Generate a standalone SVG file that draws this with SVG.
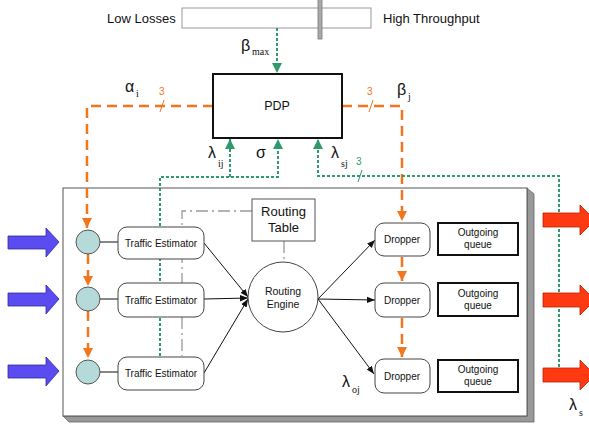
<svg xmlns="http://www.w3.org/2000/svg" width="589" height="427" viewBox="0 0 589 427">
<style>
text{font-family:"Liberation Sans",Arial,sans-serif;fill:#111}
.lbl{font-size:13px}
.sm{font-size:10px}
.gk{font-size:16px}
.sub{font-family:"Liberation Serif","Times New Roman",serif;font-size:10px}
.or{stroke:#f2761e;stroke-width:2.5;fill:none;stroke-dasharray:10 6}
.gr{stroke:#2f9a6c;stroke-width:2;fill:none;stroke-dasharray:3 2}
.blk{stroke:#111;stroke-width:1;fill:none}
.gd{stroke:#999;stroke-width:1.3;fill:none;stroke-dasharray:12 4 2 4}
.rbox{fill:#fff;stroke:#444;stroke-width:1}
.qbox{fill:#fff;stroke:#111;stroke-width:2}
.circ{fill:#b6dada;stroke:#555;stroke-width:1}
.blue{fill:#5a4cf0;stroke:#2d2a9a;stroke-width:0.8}
.red{fill:#ff3a12;stroke:#b82000;stroke-width:0.8}
</style>
<defs>
<marker id="ao" viewBox="0 0 10 10" refX="10" refY="5" markerWidth="4" markerHeight="4" orient="auto" markerUnits="strokeWidth"><path d="M0,0 L10,5 L0,10 Z" fill="#f2761e"/></marker>
<marker id="ag" viewBox="0 0 10 10" refX="10" refY="5" markerWidth="5" markerHeight="5" orient="auto" markerUnits="strokeWidth"><path d="M0,0 L10,5 L0,10 Z" fill="#2f9a6c"/></marker>
<marker id="ab" viewBox="0 0 10 10" refX="10" refY="5" markerWidth="8" markerHeight="8" orient="auto" markerUnits="strokeWidth"><path d="M0,1 L10,5 L0,9 Z" fill="#111"/></marker>
</defs>

<g id="slider">
<text class="lbl" x="107" y="23">Low Losses</text>
<rect x="182" y="8" width="189" height="20" fill="#fff" stroke="#999" stroke-width="1"/>
<rect x="318" y="-2" width="4" height="41" fill="#aaa" stroke="#777" stroke-width="0.8"/>
<text class="lbl" x="383" y="23">High Throughput</text>
</g>

<g id="main-box">
<polygon points="527,188 534,194 534,422 69,422 63,416 527,416" fill="#999" stroke="#666" stroke-width="0.8"/>
<rect x="63" y="188" width="464" height="228" fill="#fff" stroke="#555" stroke-width="1"/>
</g>

<g id="connectors">
<path class="or" d="M213,106 H87 V228" marker-end="url(#ao)"/>
<path class="or" d="M88,254 V286" marker-end="url(#ao)"/>
<path class="or" d="M88,311 V358" marker-end="url(#ao)"/>
<path class="or" d="M342,106 H402 V221" marker-end="url(#ao)"/>
<path class="or" d="M402,257 V281" marker-end="url(#ao)"/>
<path class="or" d="M402,318 V357" marker-end="url(#ao)"/>
<line x1="160" y1="112" x2="164" y2="100" stroke="#f2761e" stroke-width="1"/>
<line x1="369" y1="112" x2="373" y2="100" stroke="#f2761e" stroke-width="1"/>
<path class="gr" d="M277,28 V73" marker-end="url(#ag)"/>
<path class="gr" d="M160,356 V177 H278 V139" marker-end="url(#ag)"/>
<path class="gr" d="M230,177 V139" marker-end="url(#ag)"/>
<path class="gr" d="M559,367 V176 H318 V139" marker-end="url(#ag)"/>
<line x1="358" y1="182" x2="362" y2="170" stroke="#2f9a6c" stroke-width="1"/>
<path class="gd" d="M252,211 H182 V356"/>
<path class="gd" d="M284,241 V262"/>
<line class="blk" x1="100" y1="242" x2="118" y2="242"/>
<line class="blk" x1="100" y1="299" x2="118" y2="299"/>
<line class="blk" x1="100" y1="372" x2="118" y2="372"/>
<line class="blk" x1="204" y1="243" x2="248" y2="297" marker-end="url(#ab)"/>
<line class="blk" x1="204" y1="299" x2="248" y2="298" marker-end="url(#ab)"/>
<line class="blk" x1="204" y1="373" x2="248" y2="299" marker-end="url(#ab)"/>
<line class="blk" x1="318" y1="299" x2="375" y2="240" marker-end="url(#ab)"/>
<line class="blk" x1="318" y1="299" x2="375" y2="300" marker-end="url(#ab)"/>
<line class="blk" x1="318" y1="299" x2="374" y2="374" marker-end="url(#ab)"/>
</g>

<g id="pdp">
<rect x="213" y="74" width="129" height="64" fill="#fff" stroke="#111" stroke-width="2"/>
<text x="277" y="110" text-anchor="middle" style="font-size:12.5px">PDP</text>
</g>

<g id="labels">
<text class="gk" x="241" y="51">β</text><text class="sub" x="252" y="55">max</text>
<text class="gk" x="125" y="92">α</text><text class="sub" x="136" y="97">i</text>
<text x="159" y="95" style="font-size:10px;fill:#f2761e">3</text>
<text x="367" y="95" style="font-size:10px;fill:#f2761e">3</text>
<text class="gk" x="397" y="95">β</text><text class="sub" x="408" y="100">j</text>
<text class="gk" x="208" y="158">λ</text><text class="sub" x="218" y="167">ij</text>
<text class="gk" x="256" y="158">σ</text>
<text class="gk" x="331" y="158">λ</text><text class="sub" x="341" y="167">sj</text>
<text x="356" y="165" style="font-size:10px;fill:#2f9a6c">3</text>
<text class="gk" x="342" y="387">λ</text><text class="sub" x="352" y="393">oj</text>
<text class="gk" x="569" y="410">λ</text><text class="sub" x="579" y="416">s</text>
</g>

<g id="inputs">
<polygon class="blue" points="8,236 46,236 46,228 59,242 46,257 46,249 8,249"/>
<polygon class="blue" points="8,293 46,293 46,285 59,299 46,314 46,306 8,306"/>
<polygon class="blue" points="8,365 46,365 46,357 59,371 46,386 46,378 8,378"/>
</g>

<g id="queues-circles">
<circle class="circ" cx="88" cy="242" r="12"/>
<circle class="circ" cx="88" cy="299" r="12"/>
<circle class="circ" cx="88" cy="372" r="12"/>
</g>

<g id="traffic-estimator-1"><rect class="rbox" x="118" y="227" width="86" height="32" rx="9"/><text class="sm" x="161" y="246.5" text-anchor="middle">Traffic Estimator</text></g>
<g id="traffic-estimator-2"><rect class="rbox" x="118" y="283" width="86" height="34" rx="9"/><text class="sm" x="161" y="303.5" text-anchor="middle">Traffic Estimator</text></g>
<g id="traffic-estimator-3"><rect class="rbox" x="118" y="357" width="86" height="33" rx="9"/><text class="sm" x="161" y="377" text-anchor="middle">Traffic Estimator</text></g>

<g id="routing-table">
<rect x="252" y="199" width="63" height="42" fill="#fff" stroke="#555" stroke-width="1"/>
<text class="lbl" x="283.5" y="216" text-anchor="middle">Routing</text>
<text class="lbl" x="283.5" y="232" text-anchor="middle">Table</text>
</g>

<g id="routing-engine">
<circle cx="283" cy="297" r="35" fill="#fff" stroke="#444" stroke-width="1"/>
<text x="283" y="295" text-anchor="middle" style="font-size:10.5px">Routing</text>
<text x="283" y="308" text-anchor="middle" style="font-size:10.5px">Engine</text>
</g>

<g id="dropper-1"><rect class="rbox" x="375" y="223" width="55" height="33" rx="9"/><text class="sm" x="402" y="243" text-anchor="middle">Dropper</text></g>
<g id="dropper-2"><rect class="rbox" x="375" y="283" width="55" height="34" rx="9"/><text class="sm" x="402" y="303.5" text-anchor="middle">Dropper</text></g>
<g id="dropper-3"><rect class="rbox" x="375" y="359" width="55" height="34" rx="9"/><text class="sm" x="402" y="379.5" text-anchor="middle">Dropper</text></g>

<g id="outgoing-queue-1"><rect class="qbox" x="438" y="223" width="80" height="32"/><text class="sm" x="478" y="236" text-anchor="middle">Outgoing</text><text class="sm" x="478" y="248" text-anchor="middle">queue</text></g>
<g id="outgoing-queue-2"><rect class="qbox" x="438" y="283" width="80" height="33"/><text class="sm" x="478" y="296.5" text-anchor="middle">Outgoing</text><text class="sm" x="478" y="308.5" text-anchor="middle">queue</text></g>
<g id="outgoing-queue-3"><rect class="qbox" x="438" y="360" width="80" height="32"/><text class="sm" x="478" y="373" text-anchor="middle">Outgoing</text><text class="sm" x="478" y="385" text-anchor="middle">queue</text></g>

<g id="outputs">
<polygon class="red" points="543,213 580,213 580,205 595,220 580,235 580,227 543,227"/>
<polygon class="red" points="543,293 580,293 580,285 595,300 580,315 580,307 543,307"/>
<polygon class="red" points="543,368 580,368 580,360 595,375 580,390 580,382 543,382"/>
</g>
</svg>
